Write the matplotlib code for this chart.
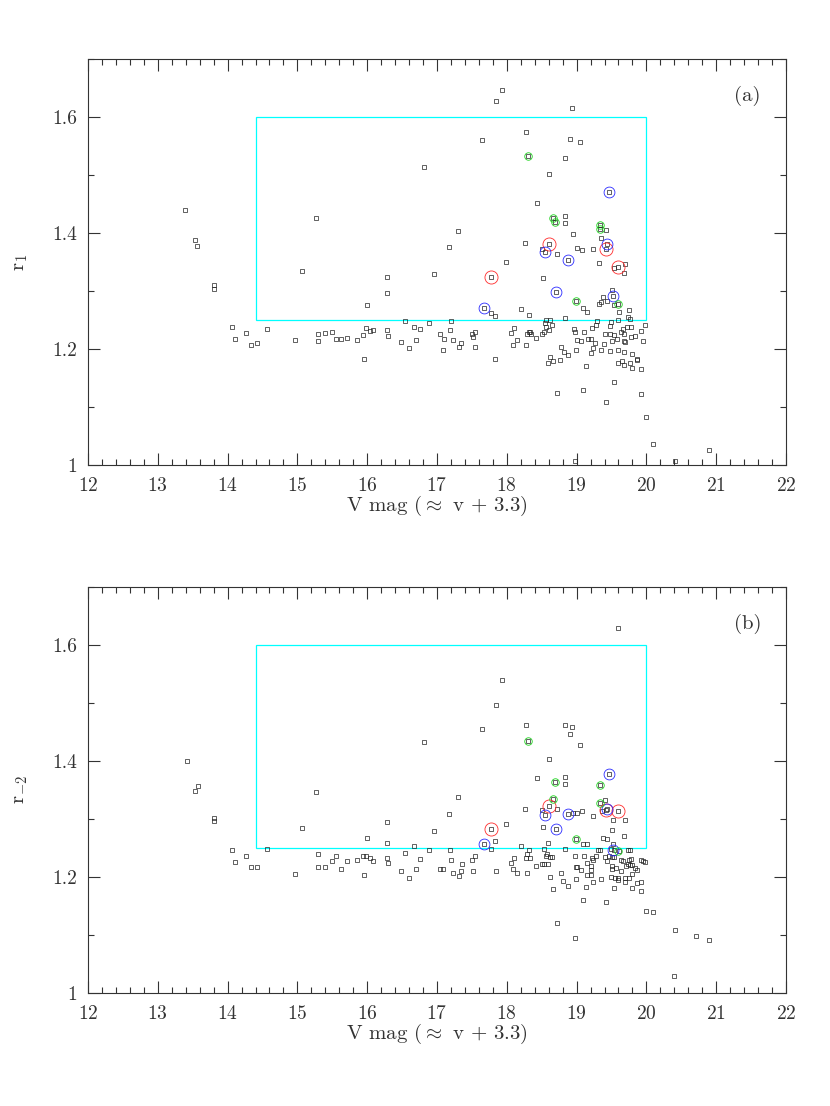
import matplotlib
matplotlib.use('Agg')
import matplotlib.pyplot as plt
from matplotlib.patches import Rectangle
from matplotlib.ticker import MultipleLocator, FuncFormatter

plt.rcParams['font.family'] = 'serif'
plt.rcParams['font.serif'] = ['cmr10', 'DejaVu Serif']
plt.rcParams['mathtext.fontset'] = 'cm'
plt.rcParams['axes.unicode_minus'] = False
plt.rcParams['axes.formatter.use_mathtext'] = True

# panel (a): V mag and r_1 of every star
va = [13.39, 13.54, 13.56, 13.80, 13.80, 14.07, 14.11, 14.26, 14.33, 14.42, 14.56, 14.96, 15.06, 15.26,
      15.29, 15.30, 15.40, 15.49, 15.55, 15.62, 15.71, 15.85, 15.94, 15.95, 15.99, 16.00, 16.04, 16.08,
      16.29, 16.29, 16.29, 16.30, 16.48, 16.54, 16.60, 16.67, 16.70, 16.75, 16.81, 16.88, 16.95, 17.05,
      17.09, 17.10, 17.17, 17.18, 17.20, 17.23, 17.30, 17.31, 17.35, 17.50, 17.52, 17.54, 17.54, 17.65,
      17.67, 17.78, 17.78, 17.83, 17.83, 17.85, 17.93, 17.99, 18.06, 18.09, 18.11, 18.15, 18.20, 18.26,
      18.27, 18.27, 18.29, 18.30, 18.32, 18.32, 18.33, 18.35, 18.42, 18.43, 18.50, 18.50, 18.52, 18.53,
      18.55, 18.55, 18.56, 18.56, 18.59, 18.60, 18.60, 18.61, 18.62, 18.62, 18.65, 18.66, 18.66, 18.69,
      18.70, 18.72, 18.72, 18.76, 18.77, 18.82, 18.83, 18.83, 18.83, 18.84, 18.87, 18.88, 18.90, 18.93,
      18.95, 18.96, 18.97, 18.98, 18.99, 18.99, 19.01, 19.01, 19.05, 19.07, 19.08, 19.09, 19.09, 19.11,
      19.13, 19.15, 19.17, 19.21, 19.21, 19.22, 19.23, 19.24, 19.27, 19.28, 19.29, 19.32, 19.32, 19.33,
      19.33, 19.35, 19.35, 19.35, 19.38, 19.39, 19.40, 19.42, 19.42, 19.42, 19.43, 19.44, 19.47, 19.48,
      19.48, 19.48, 19.49, 19.50, 19.51, 19.52, 19.53, 19.53, 19.54, 19.54, 19.58, 19.59, 19.59, 19.59,
      19.60, 19.60, 19.61, 19.64, 19.65, 19.66, 19.68, 19.68, 19.68, 19.68, 19.68, 19.70, 19.70, 19.72,
      19.74, 19.75, 19.76, 19.77, 19.78, 19.78, 19.79, 19.80, 19.83, 19.87, 19.87, 19.92, 19.92, 19.92,
      19.95, 19.98, 20.00, 20.09, 20.41, 20.90]
r1 = [1.440, 1.388, 1.378, 1.311, 1.304, 1.237, 1.218, 1.227, 1.206, 1.210, 1.234, 1.216, 1.335, 1.425,
      1.214, 1.225, 1.227, 1.230, 1.217, 1.217, 1.219, 1.216, 1.224, 1.183, 1.236, 1.275, 1.231, 1.233,
      1.324, 1.296, 1.232, 1.222, 1.212, 1.248, 1.201, 1.238, 1.216, 1.234, 1.514, 1.245, 1.329, 1.225,
      1.198, 1.217, 1.376, 1.233, 1.249, 1.215, 1.403, 1.203, 1.210, 1.225, 1.221, 1.230, 1.203, 1.560,
      1.270, 1.324, 1.262, 1.256, 1.183, 1.628, 1.647, 1.350, 1.227, 1.206, 1.236, 1.216, 1.269, 1.383,
      1.574, 1.207, 1.225, 1.533, 1.229, 1.258, 1.230, 1.225, 1.219, 1.451, 1.372, 1.225, 1.322, 1.229,
      1.368, 1.244, 1.250, 1.238, 1.176, 1.501, 1.233, 1.381, 1.250, 1.186, 1.241, 1.425, 1.179, 1.419,
      1.299, 1.363, 1.124, 1.181, 1.203, 1.194, 1.529, 1.430, 1.253, 1.418, 1.354, 1.189, 1.562, 1.615,
      1.398, 1.234, 1.229, 1.007, 1.282, 1.199, 1.374, 1.216, 1.556, 1.214, 1.371, 1.271, 1.129, 1.229,
      1.170, 1.264, 1.218, 1.217, 1.193, 1.236, 1.202, 1.372, 1.210, 1.241, 1.249, 1.348, 1.278, 1.414,
      1.406, 1.392, 1.281, 1.198, 1.290, 1.208, 1.225, 1.405, 1.372, 1.109, 1.381, 1.282, 1.471, 1.225,
      1.197, 1.240, 1.247, 1.213, 1.302, 1.291, 1.339, 1.275, 1.224, 1.143, 1.217, 1.342, 1.199, 1.176,
      1.277, 1.250, 1.264, 1.229, 1.179, 1.235, 1.331, 1.225, 1.214, 1.194, 1.172, 1.346, 1.212, 1.237,
      1.255, 1.267, 1.176, 1.251, 1.237, 1.220, 1.191, 1.168, 1.222, 1.183, 1.181, 1.231, 1.166, 1.123,
      1.214, 1.241, 1.083, 1.037, 1.007, 1.026]

# panel (b): V mag and r_-2
vb = [13.42, 13.54, 13.57, 13.80, 13.80, 14.07, 14.11, 14.26, 14.33, 14.42, 14.56, 14.96, 15.06, 15.26,
      15.29, 15.30, 15.40, 15.49, 15.55, 15.62, 15.71, 15.85, 15.94, 15.95, 15.99, 16.00, 16.04, 16.08,
      16.29, 16.29, 16.29, 16.30, 16.48, 16.54, 16.60, 16.67, 16.70, 16.75, 16.81, 16.88, 16.95, 17.05,
      17.09, 17.17, 17.18, 17.20, 17.23, 17.30, 17.31, 17.35, 17.36, 17.50, 17.52, 17.54, 17.65, 17.67,
      17.78, 17.78, 17.83, 17.84, 17.85, 17.93, 17.99, 18.06, 18.09, 18.11, 18.15, 18.20, 18.26, 18.27,
      18.27, 18.29, 18.29, 18.30, 18.32, 18.33, 18.42, 18.43, 18.50, 18.50, 18.52, 18.53, 18.53, 18.55,
      18.56, 18.58, 18.59, 18.59, 18.60, 18.61, 18.62, 18.62, 18.65, 18.66, 18.66, 18.69, 18.70, 18.72,
      18.72, 18.78, 18.80, 18.83, 18.83, 18.84, 18.83, 18.87, 18.88, 18.90, 18.93, 18.95, 18.98, 18.98,
      18.99, 18.99, 18.99, 19.00, 19.01, 19.05, 19.07, 19.08, 19.09, 19.09, 19.11, 19.13, 19.15, 19.15,
      19.15, 19.20, 19.21, 19.21, 19.22, 19.24, 19.24, 19.24, 19.28, 19.30, 19.33, 19.33, 19.33, 19.35,
      19.37, 19.38, 19.40, 19.41, 19.42, 19.42, 19.43, 19.43, 19.44, 19.46, 19.47, 19.49, 19.49, 19.50,
      19.50, 19.51, 19.51, 19.52, 19.52, 19.53, 19.53, 19.54, 19.55, 19.56, 19.59, 19.59, 19.59, 19.60,
      19.61, 19.64, 19.64, 19.66, 19.68, 19.69, 19.69, 19.70, 19.71, 19.74, 19.74, 19.75, 19.75, 19.76,
      19.77, 19.78, 19.79, 19.79, 19.80, 19.83, 19.87, 19.87, 19.92, 19.92, 19.92, 19.95, 19.98, 20.00,
      20.09, 20.40, 20.41, 20.71, 20.90]
r2 = [1.400, 1.348, 1.357, 1.302, 1.297, 1.246, 1.225, 1.236, 1.217, 1.218, 1.248, 1.205, 1.284, 1.347,
      1.217, 1.240, 1.217, 1.228, 1.237, 1.213, 1.227, 1.229, 1.237, 1.203, 1.237, 1.267, 1.232, 1.228,
      1.294, 1.258, 1.232, 1.224, 1.210, 1.241, 1.198, 1.253, 1.214, 1.231, 1.432, 1.246, 1.280, 1.214,
      1.214, 1.308, 1.246, 1.229, 1.207, 1.338, 1.201, 1.210, 1.222, 1.229, 1.210, 1.237, 1.455, 1.257,
      1.283, 1.248, 1.262, 1.210, 1.496, 1.540, 1.291, 1.224, 1.213, 1.232, 1.207, 1.253, 1.317, 1.462,
      1.232, 1.239, 1.206, 1.434, 1.246, 1.232, 1.219, 1.370, 1.315, 1.222, 1.287, 1.249, 1.222, 1.306,
      1.237, 1.240, 1.258, 1.222, 1.403, 1.323, 1.234, 1.200, 1.234, 1.334, 1.179, 1.363, 1.282, 1.317,
      1.121, 1.206, 1.193, 1.462, 1.372, 1.360, 1.249, 1.308, 1.184, 1.447, 1.459, 1.311, 1.237, 1.094,
      1.266, 1.217, 1.196, 1.311, 1.217, 1.427, 1.212, 1.313, 1.256, 1.161, 1.237, 1.183, 1.256, 1.224,
      1.203, 1.219, 1.212, 1.203, 1.233, 1.305, 1.229, 1.192, 1.237, 1.247, 1.359, 1.328, 1.247, 1.197,
      1.314, 1.268, 1.235, 1.332, 1.316, 1.157, 1.317, 1.228, 1.265, 1.236, 1.378, 1.249, 1.200, 1.219,
      1.234, 1.281, 1.214, 1.298, 1.256, 1.247, 1.235, 1.181, 1.199, 1.216, 1.313, 1.194, 1.630, 1.198,
      1.245, 1.229, 1.210, 1.228, 1.270, 1.191, 1.198, 1.299, 1.219, 1.247, 1.222, 1.229, 1.198, 1.221,
      1.247, 1.231, 1.205, 1.220, 1.181, 1.215, 1.190, 1.212, 1.229, 1.191, 1.176, 1.227, 1.226, 1.141,
      1.139, 1.029, 1.108, 1.099, 1.092]

# circled stars
red_v = [17.78, 18.61, 19.42, 19.59]
red_r1 = [1.324, 1.381, 1.372, 1.342]
red_r2 = [1.283, 1.323, 1.316, 1.313]
blue_v = [17.67, 18.55, 18.87, 18.70, 19.47, 19.43, 19.52]
blue_r1 = [1.270, 1.368, 1.354, 1.299, 1.471, 1.381, 1.291]
blue_r2 = [1.257, 1.306, 1.308, 1.282, 1.378, 1.317, 1.247]
green_v = [18.30, 18.66, 18.69, 19.33, 19.33, 18.99, 19.60]
green_r1 = [1.533, 1.425, 1.419, 1.414, 1.406, 1.282, 1.277]
green_r2 = [1.434, 1.334, 1.363, 1.359, 1.328, 1.266, 1.245]

box_v = (14.4, 20.0)
box_r = (1.25, 1.6)

panels = [('(a)', 'r$_1$', va, r1, red_r1, blue_r1, green_r1),
          ('(b)', 'r$_{-2}$', vb, r2, red_r2, blue_r2, green_r2)]

fig = plt.figure(figsize=(8.3, 11.06), dpi=100)
ink = '#333333'
positions = [[0.106, 0.5796, 0.841, 0.3671], [0.106, 0.1022, 0.841, 0.3671]]

for pos, (tag, ylab, v, r, rr, br, gr) in zip(positions, panels):
    ax = fig.add_axes(pos)
    ax.plot(v, r, 's', ms=2.2, mfc='none', mec='#222222', mew=0.5, ls='none')
    ax.plot(red_v, rr, 'o', ms=9.4, mfc='none', mec='#ff2a2a', mew=0.6, ls='none')
    ax.plot(blue_v, br, 'o', ms=7.8, mfc='none', mec='#2a2aff', mew=0.6, ls='none')
    ax.plot(green_v, gr, 'o', ms=5.4, mfc='none', mec='#1ed41e', mew=0.6, ls='none')
    ax.add_patch(Rectangle((box_v[0], box_r[0]), box_v[1] - box_v[0], box_r[1] - box_r[0],
                           fill=False, ec='cyan', lw=0.9))
    ax.set_xlim(12, 22)
    ax.set_ylim(1, 1.7)
    ax.xaxis.set_major_locator(MultipleLocator(1))
    ax.xaxis.set_minor_locator(MultipleLocator(0.2))
    ax.yaxis.set_major_locator(MultipleLocator(0.2))
    ax.yaxis.set_minor_locator(MultipleLocator(0.1))
    ax.yaxis.set_major_formatter(FuncFormatter(lambda y, p: '%g' % round(y, 1)))
    ax.tick_params(which='both', direction='in', top=True, right=True, color=ink,
                   labelcolor=ink, labelsize=14, width=0.8)
    ax.tick_params(which='major', length=8.6)
    ax.tick_params(which='minor', length=4.3)
    ax.tick_params(axis='x', pad=9)
    ax.tick_params(axis='y', pad=8)
    for s in ax.spines.values():
        s.set_color(ink)
        s.set_linewidth(0.8)
    ax.set_xlabel('V mag ($\\approx$ v + 3.3)', fontsize=15, color=ink)
    ax.set_ylabel(ylab, fontsize=15, color=ink)
    ax.xaxis.set_label_coords(0.5, -0.072)
    ax.yaxis.set_label_coords(-0.083, 0.5)
    ax.text(0.945, 0.91, tag, transform=ax.transAxes, ha='center', va='center',
            fontsize=15, color=ink)

fig.savefig('out.png', dpi=100)
